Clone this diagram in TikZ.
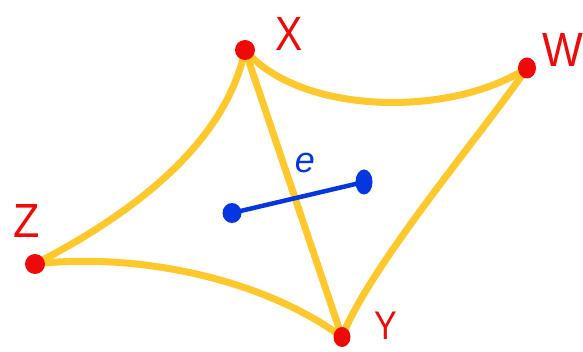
\documentclass[tikz,border=0pt]{standalone}
\usepackage{fontspec}
\setmainfont{Liberation Sans}
\pgfdeclarelayer{bg}
\pgfsetlayers{bg,main}
\definecolor{edgeyellow}{RGB}{255,200,45}
\definecolor{dotred}{RGB}{238,10,10}
\definecolor{dotblue}{RGB}{5,55,225}
\tikzset{
  reddot/.style={circle,fill=dotred,inner sep=0pt,minimum size=20pt},
  bluedot/.style={ellipse,fill=dotblue,inner sep=0pt},
  yedge/.style={draw=edgeyellow,line width=7pt,line cap=round},
  bedge/.style={draw=dotblue,line width=4.5pt,line cap=round},
  vlabel/.style={text=dotred,font=\fontsize{48}{48}\selectfont,inner sep=0pt},
  elabel/.style={text=dotblue,font=\itshape\fontsize{36}{36}\selectfont,inner sep=0pt}
}
\usetikzlibrary{shapes.geometric}
\begin{document}
\begin{tikzpicture}[x=1pt,y=-1pt]
\useasboundingbox (0,0) rectangle (583,352);
\node[reddot] (X) at (245,50) {};
\node[reddot,minimum width=18pt,minimum height=21pt,ellipse] (W) at (527,68) {};
\node[reddot] (Z) at (35,264) {};
\node[reddot,minimum width=17pt,minimum height=20pt,ellipse] (Y) at (342,337) {};
\node[bluedot,minimum width=19pt,minimum height=20pt] (B1) at (232,213) {};
\node[bluedot,minimum width=17pt,minimum height=25pt] (B2) at (364,182) {};
\begin{pgfonlayer}{bg}
\draw[yedge] (X.center) .. controls (300,115) and (450,118) .. (W.center);
\draw[yedge] (W.center) .. controls (485,130) and (370,265) .. (Y.center);
\draw[yedge] (X.center) -- (Y.center);
\draw[yedge] (X.center) .. controls (226,140) and (140,210) .. (Z.center);
\draw[yedge] (Z.center) .. controls (140,252) and (265,280) .. (Y.center);
\draw[bedge] (B1.center) -- (B2.center);
\end{pgfonlayer}
\node[vlabel,xscale=0.85] (LX) at (289,34) {X};
\node[vlabel,xscale=0.9] (LW) at (563,50) {W};
\node[vlabel,xscale=0.9] (LZ) at (27,221) {Z};
\node[vlabel,xscale=0.85,font=\fontsize{40}{40}\selectfont] (LY) at (386,326) {Y};
\node[elabel] (Le) at (305,163) {e};
\end{tikzpicture}
\end{document}
